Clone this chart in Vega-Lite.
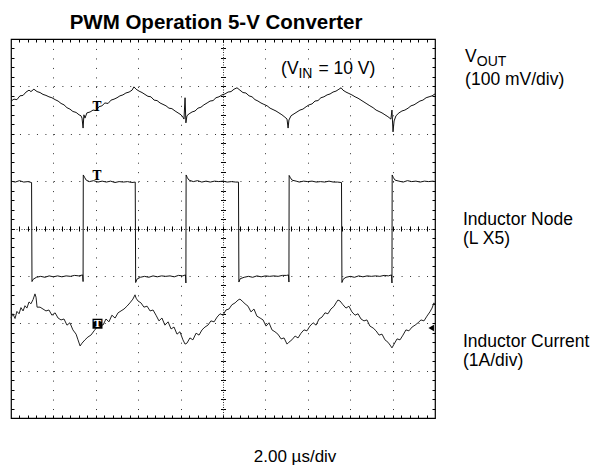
{
  "$schema": "https://vega.github.io/schema/vega-lite/v6.json",
  "autosize": {"type": "none"},
  "padding": {"left": 11, "top": 39, "right": 168, "bottom": 51},
  "width": 424,
  "height": 379,
  "background": "white",
  "title": {"text": "PWM Operation 5-V Converter", "font": "Liberation Sans", "fontSize": 20.5, "fontWeight": "bold", "color": "#000", "anchor": "middle", "frame": "group", "baseline": "alphabetic", "offset": -11, "dx": -7},
  "config": {
    "font": "Liberation Sans",
    "view": {"stroke": "#000", "strokeWidth": 1.2},
    "axis": {"labels": false, "domain": false, "ticks": false, "grid": false, "title": null, "minExtent": 0, "tickColor": "#000", "tickWidth": 1, "gridColor": "#000", "gridOpacity": 0.8, "gridWidth": 1}
  },
  "datasets": {
    "vout": [
      {"t":0,"v":6.69},{"t":0.14,"v":6.73},{"t":0.28,"v":6.72},{"t":0.42,"v":6.8},{"t":0.57,"v":6.81},{"t":0.71,"v":6.88},{"t":0.85,"v":6.92},{"t":0.94,"v":6.89},{"t":1.08,"v":6.94},{"t":1.23,"v":6.89},{"t":1.37,"v":6.87},{"t":1.51,"v":6.83},{"t":1.65,"v":6.81},{"t":1.79,"v":6.78},{"t":1.93,"v":6.76},{"t":2.08,"v":6.72},{"t":2.22,"v":6.69},{"t":2.36,"v":6.64},{"t":2.5,"v":6.61},{"t":2.64,"v":6.55},{"t":2.78,"v":6.52},{"t":2.92,"v":6.47},{"t":3.07,"v":6.45},{"t":3.21,"v":6.4},{"t":3.3,"v":6.38},{"t":3.35,"v":6.33},{"t":3.4,"v":6.12},{"t":3.44,"v":6.4},{"t":3.49,"v":6.33},{"t":3.58,"v":6.44},{"t":3.73,"v":6.46},{"t":3.87,"v":6.5},{"t":4.01,"v":6.49},{"t":4.15,"v":6.57},{"t":4.29,"v":6.59},{"t":4.43,"v":6.65},{"t":4.58,"v":6.64},{"t":4.72,"v":6.71},{"t":4.86,"v":6.73},{"t":5,"v":6.76},{"t":5.14,"v":6.8},{"t":5.28,"v":6.82},{"t":5.42,"v":6.86},{"t":5.57,"v":6.88},{"t":5.71,"v":6.92},{"t":5.8,"v":6.99},{"t":5.9,"v":6.94},{"t":6.04,"v":6.9},{"t":6.18,"v":6.87},{"t":6.32,"v":6.83},{"t":6.46,"v":6.79},{"t":6.6,"v":6.78},{"t":6.75,"v":6.71},{"t":6.89,"v":6.7},{"t":7.03,"v":6.65},{"t":7.17,"v":6.62},{"t":7.31,"v":6.59},{"t":7.45,"v":6.54},{"t":7.59,"v":6.53},{"t":7.74,"v":6.48},{"t":7.88,"v":6.44},{"t":8.02,"v":6.4},{"t":8.11,"v":6.35},{"t":8.16,"v":6.31},{"t":8.21,"v":6.76},{"t":8.25,"v":6.23},{"t":8.3,"v":6.38},{"t":8.4,"v":6.42},{"t":8.54,"v":6.46},{"t":8.68,"v":6.48},{"t":8.82,"v":6.54},{"t":8.96,"v":6.56},{"t":9.1,"v":6.61},{"t":9.25,"v":6.65},{"t":9.39,"v":6.69},{"t":9.53,"v":6.7},{"t":9.67,"v":6.76},{"t":9.81,"v":6.78},{"t":9.95,"v":6.82},{"t":10.09,"v":6.84},{"t":10.24,"v":6.88},{"t":10.38,"v":6.89},{"t":10.52,"v":6.94},{"t":10.66,"v":6.97},{"t":10.8,"v":6.92},{"t":10.94,"v":6.87},{"t":11.08,"v":6.86},{"t":11.23,"v":6.8},{"t":11.37,"v":6.78},{"t":11.51,"v":6.72},{"t":11.65,"v":6.69},{"t":11.79,"v":6.65},{"t":11.93,"v":6.62},{"t":12.08,"v":6.59},{"t":12.22,"v":6.54},{"t":12.36,"v":6.51},{"t":12.5,"v":6.48},{"t":12.64,"v":6.44},{"t":12.78,"v":6.4},{"t":12.92,"v":6.35},{"t":13.02,"v":6.31},{"t":13.07,"v":6.12},{"t":13.11,"v":6.29},{"t":13.21,"v":6.38},{"t":13.35,"v":6.42},{"t":13.49,"v":6.46},{"t":13.63,"v":6.5},{"t":13.77,"v":6.52},{"t":13.92,"v":6.57},{"t":14.06,"v":6.61},{"t":14.2,"v":6.63},{"t":14.34,"v":6.69},{"t":14.48,"v":6.7},{"t":14.62,"v":6.76},{"t":14.76,"v":6.78},{"t":14.91,"v":6.82},{"t":15.05,"v":6.84},{"t":15.19,"v":6.88},{"t":15.33,"v":6.9},{"t":15.47,"v":6.94},{"t":15.57,"v":6.97},{"t":15.66,"v":6.92},{"t":15.8,"v":6.88},{"t":15.94,"v":6.85},{"t":16.08,"v":6.82},{"t":16.23,"v":6.78},{"t":16.37,"v":6.75},{"t":16.51,"v":6.71},{"t":16.65,"v":6.67},{"t":16.79,"v":6.63},{"t":16.93,"v":6.59},{"t":17.08,"v":6.55},{"t":17.22,"v":6.5},{"t":17.36,"v":6.47},{"t":17.5,"v":6.44},{"t":17.64,"v":6.4},{"t":17.78,"v":6.36},{"t":17.92,"v":6.31},{"t":17.97,"v":6.5},{"t":18.02,"v":6.04},{"t":18.07,"v":6.27},{"t":18.16,"v":6.38},{"t":18.3,"v":6.44},{"t":18.44,"v":6.48},{"t":18.58,"v":6.5},{"t":18.73,"v":6.54},{"t":18.87,"v":6.59},{"t":19.01,"v":6.61},{"t":19.15,"v":6.65},{"t":19.29,"v":6.69},{"t":19.43,"v":6.71},{"t":19.58,"v":6.76},{"t":19.72,"v":6.78},{"t":19.86,"v":6.8},{"t":20,"v":6.84}
    ],
    "node": [
      {"t":0,"v":5.0},{"t":0.2,"v":4.98},{"t":0.4,"v":5.01},{"t":0.6,"v":4.98},{"t":0.8,"v":4.99},{"t":0.97,"v":4.97},{"t":0.99,"v":2.88},{"t":1.05,"v":2.93},{"t":1.2,"v":2.97},{"t":1.4,"v":2.99},{"t":1.6,"v":2.97},{"t":1.8,"v":3.0},{"t":2.0,"v":2.98},{"t":2.2,"v":3.0},{"t":2.4,"v":2.98},{"t":2.6,"v":3.0},{"t":2.8,"v":2.99},{"t":3.0,"v":3.01},{"t":3.2,"v":3.0},{"t":3.38,"v":3.02},{"t":3.4,"v":2.88},{"t":3.41,"v":5.13},{"t":3.47,"v":5.08},{"t":3.55,"v":5.02},{"t":3.7,"v":4.99},{"t":3.9,"v":5.01},{"t":4.1,"v":4.98},{"t":4.3,"v":5.0},{"t":4.5,"v":4.98},{"t":4.7,"v":5.0},{"t":4.9,"v":4.97},{"t":5.1,"v":4.99},{"t":5.3,"v":4.98},{"t":5.5,"v":4.99},{"t":5.7,"v":4.97},{"t":5.86,"v":4.98},{"t":5.88,"v":2.86},{"t":5.94,"v":2.93},{"t":6.1,"v":2.97},{"t":6.3,"v":2.99},{"t":6.5,"v":2.97},{"t":6.7,"v":3.0},{"t":6.9,"v":2.98},{"t":7.1,"v":3.0},{"t":7.3,"v":2.99},{"t":7.5,"v":3.0},{"t":7.7,"v":2.98},{"t":7.9,"v":3.01},{"t":8.1,"v":3.0},{"t":8.23,"v":3.02},{"t":8.25,"v":2.85},{"t":8.26,"v":5.13},{"t":8.32,"v":5.07},{"t":8.4,"v":5.02},{"t":8.6,"v":4.99},{"t":8.8,"v":5.01},{"t":9.0,"v":4.98},{"t":9.2,"v":5.0},{"t":9.4,"v":4.98},{"t":9.6,"v":5.0},{"t":9.8,"v":4.99},{"t":10.0,"v":5.0},{"t":10.2,"v":4.98},{"t":10.4,"v":4.99},{"t":10.6,"v":4.98},{"t":10.73,"v":4.98},{"t":10.75,"v":2.87},{"t":10.81,"v":2.94},{"t":11.0,"v":2.97},{"t":11.2,"v":2.99},{"t":11.4,"v":2.97},{"t":11.6,"v":3.0},{"t":11.8,"v":2.98},{"t":12.0,"v":3.0},{"t":12.2,"v":2.99},{"t":12.4,"v":3.0},{"t":12.6,"v":2.99},{"t":12.8,"v":3.01},{"t":13.0,"v":3.01},{"t":13.09,"v":3.02},{"t":13.11,"v":2.87},{"t":13.12,"v":5.12},{"t":13.18,"v":5.07},{"t":13.26,"v":5.02},{"t":13.45,"v":5.0},{"t":13.6,"v":4.98},{"t":13.8,"v":5.0},{"t":14.0,"v":4.99},{"t":14.2,"v":5.0},{"t":14.4,"v":4.98},{"t":14.6,"v":4.99},{"t":14.8,"v":4.98},{"t":15.0,"v":5.0},{"t":15.2,"v":4.98},{"t":15.4,"v":4.98},{"t":15.59,"v":4.97},{"t":15.61,"v":2.86},{"t":15.67,"v":2.93},{"t":15.8,"v":2.97},{"t":16.0,"v":2.99},{"t":16.2,"v":2.97},{"t":16.4,"v":3.0},{"t":16.6,"v":2.98},{"t":16.8,"v":3.0},{"t":17.0,"v":2.99},{"t":17.2,"v":3.0},{"t":17.4,"v":2.99},{"t":17.6,"v":3.01},{"t":17.8,"v":3.0},{"t":17.95,"v":3.02},{"t":17.97,"v":2.85},{"t":17.98,"v":5.13},{"t":18.04,"v":5.07},{"t":18.12,"v":5.02},{"t":18.3,"v":5.0},{"t":18.5,"v":4.98},{"t":18.7,"v":5.01},{"t":18.9,"v":4.99},{"t":19.1,"v":5.0},{"t":19.3,"v":4.98},{"t":19.5,"v":5.0},{"t":19.7,"v":4.99},{"t":19.9,"v":5.0},{"t":20.0,"v":4.99}
    ],
    "current": [
      {"t":0,"v":2.11},{"t":0.09,"v":2.2},{"t":0.19,"v":2.1},{"t":0.28,"v":2.25},{"t":0.38,"v":2.2},{"t":0.47,"v":2.33},{"t":0.57,"v":2.26},{"t":0.66,"v":2.37},{"t":0.75,"v":2.32},{"t":0.85,"v":2.45},{"t":0.94,"v":2.41},{"t":1.04,"v":2.5},{"t":1.13,"v":2.62},{"t":1.18,"v":2.55},{"t":1.23,"v":2.34},{"t":1.37,"v":2.34},{"t":1.51,"v":2.3},{"t":1.65,"v":2.26},{"t":1.79,"v":2.28},{"t":1.93,"v":2.17},{"t":2.08,"v":2.22},{"t":2.22,"v":2.11},{"t":2.36,"v":2.07},{"t":2.5,"v":2.09},{"t":2.64,"v":1.96},{"t":2.78,"v":2.01},{"t":2.92,"v":1.86},{"t":3.07,"v":1.77},{"t":3.16,"v":1.65},{"t":3.26,"v":1.52},{"t":3.35,"v":1.58},{"t":3.49,"v":1.65},{"t":3.63,"v":1.71},{"t":3.77,"v":1.75},{"t":3.92,"v":1.84},{"t":4.06,"v":1.92},{"t":4.2,"v":1.98},{"t":4.34,"v":1.96},{"t":4.48,"v":2.09},{"t":4.62,"v":2.03},{"t":4.76,"v":2.17},{"t":4.91,"v":2.11},{"t":5.05,"v":2.22},{"t":5.19,"v":2.26},{"t":5.33,"v":2.3},{"t":5.47,"v":2.36},{"t":5.61,"v":2.43},{"t":5.75,"v":2.51},{"t":5.85,"v":2.6},{"t":5.9,"v":2.53},{"t":5.99,"v":2.47},{"t":6.13,"v":2.43},{"t":6.27,"v":2.34},{"t":6.42,"v":2.36},{"t":6.56,"v":2.26},{"t":6.7,"v":2.28},{"t":6.84,"v":2.17},{"t":6.98,"v":2.05},{"t":7.12,"v":2.11},{"t":7.26,"v":1.96},{"t":7.41,"v":2.03},{"t":7.55,"v":1.88},{"t":7.69,"v":1.92},{"t":7.83,"v":1.77},{"t":7.97,"v":1.82},{"t":8.11,"v":1.65},{"t":8.21,"v":1.56},{"t":8.3,"v":1.58},{"t":8.44,"v":1.69},{"t":8.58,"v":1.65},{"t":8.73,"v":1.79},{"t":8.87,"v":1.75},{"t":9.01,"v":1.86},{"t":9.15,"v":1.92},{"t":9.29,"v":1.96},{"t":9.43,"v":2.05},{"t":9.58,"v":2.03},{"t":9.72,"v":2.13},{"t":9.86,"v":2.2},{"t":10.0,"v":2.17},{"t":10.14,"v":2.28},{"t":10.28,"v":2.3},{"t":10.42,"v":2.39},{"t":10.57,"v":2.43},{"t":10.71,"v":2.49},{"t":10.8,"v":2.51},{"t":10.9,"v":2.47},{"t":11.04,"v":2.41},{"t":11.18,"v":2.36},{"t":11.32,"v":2.24},{"t":11.46,"v":2.3},{"t":11.6,"v":2.15},{"t":11.75,"v":2.11},{"t":11.89,"v":2.07},{"t":12.03,"v":1.94},{"t":12.17,"v":2.01},{"t":12.31,"v":1.86},{"t":12.45,"v":1.82},{"t":12.59,"v":1.77},{"t":12.74,"v":1.67},{"t":12.88,"v":1.69},{"t":13.02,"v":1.56},{"t":13.11,"v":1.6},{"t":13.25,"v":1.65},{"t":13.4,"v":1.73},{"t":13.54,"v":1.69},{"t":13.68,"v":1.79},{"t":13.82,"v":1.86},{"t":13.96,"v":1.84},{"t":14.1,"v":1.94},{"t":14.25,"v":2.01},{"t":14.39,"v":1.96},{"t":14.53,"v":2.09},{"t":14.67,"v":2.13},{"t":14.81,"v":2.22},{"t":14.95,"v":2.2},{"t":15.09,"v":2.3},{"t":15.24,"v":2.36},{"t":15.33,"v":2.43},{"t":15.42,"v":2.49},{"t":15.52,"v":2.47},{"t":15.66,"v":2.39},{"t":15.8,"v":2.32},{"t":15.94,"v":2.36},{"t":16.08,"v":2.24},{"t":16.23,"v":2.17},{"t":16.37,"v":2.2},{"t":16.51,"v":2.09},{"t":16.65,"v":2.05},{"t":16.79,"v":2.07},{"t":16.93,"v":1.94},{"t":17.08,"v":1.9},{"t":17.22,"v":1.84},{"t":17.36,"v":1.75},{"t":17.5,"v":1.77},{"t":17.64,"v":1.65},{"t":17.78,"v":1.6},{"t":17.88,"v":1.54},{"t":17.97,"v":1.48},{"t":18.07,"v":1.56},{"t":18.21,"v":1.67},{"t":18.35,"v":1.65},{"t":18.49,"v":1.75},{"t":18.63,"v":1.86},{"t":18.77,"v":1.84},{"t":18.92,"v":1.92},{"t":19.06,"v":1.96},{"t":19.2,"v":2.01},{"t":19.34,"v":2.07},{"t":19.48,"v":2.05},{"t":19.62,"v":2.15},{"t":19.76,"v":2.24},{"t":19.86,"v":2.32},{"t":19.95,"v":2.43},{"t":20.0,"v":2.39}
    ],
    "labels": [
      {"t":21.42,"v":7.52,"text":"V"},
      {"t":21.42,"v":7.03,"text":"(100 mV/div)"},
      {"t":21.32,"v":4.07,"text":"Inductor Node"},
      {"t":21.32,"v":3.67,"text":"(L X5)"},
      {"t":21.32,"v":1.5,"text":"Inductor Current"},
      {"t":21.32,"v":1.1,"text":"(1A/div)"},
      {"t":12.74,"v":7.26,"text":"(V"},
      {"t":14.5,"v":7.26,"text":"= 10 V)"}
    ],
    "subs": [
      {"t":21.97,"v":7.42,"text":"OUT"},
      {"t":13.56,"v":7.18,"text":"IN"}
    ],
    "caption": [
      {"t":13.4,"v":-0.93,"text":"2.00 µs/div"}
    ],
    "trig": [
      {"t":4.06,"v":6.56},
      {"t":4.06,"v":5.11}
    ],
    "trigI": [
      {"t":4.08,"v":1.99}
    ],
    "gnd": [
      {"t":19.82,"v":1.9}
    ]
  },
  "resolve": {"axis": {"x": "independent", "y": "independent"}},
  "layer": [
    {
      "data": {"name": "vout"},
      "mark": {"type": "line", "color": "#111", "strokeWidth": 1},
      "encoding": {
        "x": {"field": "t", "type": "quantitative", "scale": {"domain": [0, 20], "nice": false, "zero": false},
              "axis": {"orient": "bottom", "grid": true, "values": [2,4,6,8,12,14,16,18], "gridDash": [1, 8.475]}},
        "y": {"field": "v", "type": "quantitative", "scale": {"domain": [0, 8], "nice": false, "zero": false},
              "axis": {"orient": "left", "grid": true, "values": [1,2,3,5,6,7], "gridDash": [1, 7.48]}}
      }
    },
    {
      "data": {"name": "node"},
      "mark": {"type": "line", "color": "#111", "strokeWidth": 1},
      "encoding": {
        "x": {"field": "t", "type": "quantitative", "scale": {"domain": [0, 20], "nice": false, "zero": false},
              "axis": {"orient": "bottom", "grid": true, "values": [10], "gridDash": [1, 1.5]}},
        "y": {"field": "v", "type": "quantitative", "scale": {"domain": [0, 8], "nice": false, "zero": false},
              "axis": {"orient": "left", "grid": true, "values": [4], "gridDash": [1, 1.5]}}
      }
    },
    {
      "data": {"name": "current"},
      "mark": {"type": "line", "color": "#222", "strokeWidth": 1},
      "encoding": {
        "x": {"field": "t", "type": "quantitative", "scale": {"domain": [0, 20], "nice": false, "zero": false},
              "axis": {"orient": "bottom", "offset": -3, "ticks": true, "tickSize": 3, "values": [0.4,0.8,1.2,1.6,2,2.4,2.8,3.2,3.6,4,4.4,4.8,5.2,5.6,6,6.4,6.8,7.2,7.6,8,8.4,8.8,9.2,9.6,10,10.4,10.8,11.2,11.6,12,12.4,12.8,13.2,13.6,14,14.4,14.8,15.2,15.6,16,16.4,16.8,17.2,17.6,18,18.4,18.8,19.2,19.6]}},
        "y": {"field": "v", "type": "quantitative", "scale": {"domain": [0, 8], "nice": false, "zero": false},
              "axis": {"orient": "left", "offset": -3, "ticks": true, "tickSize": 3, "values": [0.2,0.4,0.6,0.8,1,1.2,1.4,1.6,1.8,2,2.2,2.4,2.6,2.8,3,3.2,3.4,3.6,3.8,4,4.2,4.4,4.6,4.8,5,5.2,5.4,5.6,5.8,6,6.2,6.4,6.6,6.8,7,7.2,7.4,7.6,7.8]}}
      }
    },
    {
      "data": {"name": "labels"},
      "mark": {"type": "text", "align": "left", "baseline": "alphabetic", "fontSize": 17.5, "font": "Liberation Sans", "color": "#000"},
      "encoding": {
        "x": {"field": "t", "type": "quantitative", "scale": {"domain": [0, 20], "nice": false, "zero": false},
              "axis": {"orient": "top", "offset": -3, "ticks": true, "tickSize": 3, "values": [0.4,0.8,1.2,1.6,2,2.4,2.8,3.2,3.6,4,4.4,4.8,5.2,5.6,6,6.4,6.8,7.2,7.6,8,8.4,8.8,9.2,9.6,10,10.4,10.8,11.2,11.6,12,12.4,12.8,13.2,13.6,14,14.4,14.8,15.2,15.6,16,16.4,16.8,17.2,17.6,18,18.4,18.8,19.2,19.6]}},
        "y": {"field": "v", "type": "quantitative", "scale": {"domain": [0, 8], "nice": false, "zero": false},
              "axis": {"orient": "right", "offset": -3, "ticks": true, "tickSize": 3, "values": [0.2,0.4,0.6,0.8,1,1.2,1.4,1.6,1.8,2,2.2,2.4,2.6,2.8,3,3.2,3.4,3.6,3.8,4,4.2,4.4,4.6,4.8,5,5.2,5.4,5.6,5.8,6,6.2,6.4,6.6,6.8,7,7.2,7.4,7.6,7.8]}},
        "text": {"field": "text"}
      }
    },
    {
      "data": {"name": "subs"},
      "mark": {"type": "text", "align": "left", "baseline": "alphabetic", "fontSize": 14, "font": "Liberation Sans", "color": "#000"},
      "encoding": {
        "x": {"field": "t", "type": "quantitative", "scale": {"domain": [0, 20], "nice": false, "zero": false},
              "axis": {"orient": "bottom", "offset": -189.5, "ticks": true, "tickSize": 2.5, "values": [0.4,0.8,1.2,1.6,2,2.4,2.8,3.2,3.6,4,4.4,4.8,5.2,5.6,6,6.4,6.8,7.2,7.6,8,8.4,8.8,9.2,9.6,10,10.4,10.8,11.2,11.6,12,12.4,12.8,13.2,13.6,14,14.4,14.8,15.2,15.6,16,16.4,16.8,17.2,17.6,18,18.4,18.8,19.2,19.6]}},
        "y": {"field": "v", "type": "quantitative", "scale": {"domain": [0, 8], "nice": false, "zero": false},
              "axis": {"orient": "left", "offset": -212, "ticks": true, "tickSize": 2.5, "values": [0.2,0.4,0.6,0.8,1,1.2,1.4,1.6,1.8,2,2.2,2.4,2.6,2.8,3,3.2,3.4,3.6,3.8,4,4.2,4.4,4.6,4.8,5,5.2,5.4,5.6,5.8,6,6.2,6.4,6.6,6.8,7,7.2,7.4,7.6,7.8]}},
        "text": {"field": "text"}
      }
    },
    {
      "data": {"name": "caption"},
      "mark": {"type": "text", "align": "center", "baseline": "alphabetic", "fontSize": 17, "font": "Liberation Sans", "color": "#000"},
      "encoding": {
        "x": {"field": "t", "type": "quantitative", "scale": {"domain": [0, 20], "nice": false, "zero": false},
              "axis": {"orient": "top", "offset": -189.5, "ticks": true, "tickSize": 2.5, "values": [0.4,0.8,1.2,1.6,2,2.4,2.8,3.2,3.6,4,4.4,4.8,5.2,5.6,6,6.4,6.8,7.2,7.6,8,8.4,8.8,9.2,9.6,10,10.4,10.8,11.2,11.6,12,12.4,12.8,13.2,13.6,14,14.4,14.8,15.2,15.6,16,16.4,16.8,17.2,17.6,18,18.4,18.8,19.2,19.6]}},
        "y": {"field": "v", "type": "quantitative", "scale": {"domain": [0, 8], "nice": false, "zero": false},
              "axis": {"orient": "right", "offset": -212, "ticks": true, "tickSize": 2.5, "values": [0.2,0.4,0.6,0.8,1,1.2,1.4,1.6,1.8,2,2.2,2.4,2.6,2.8,3,3.2,3.4,3.6,3.8,4,4.2,4.4,4.6,4.8,5,5.2,5.4,5.6,5.8,6,6.2,6.4,6.6,6.8,7,7.2,7.4,7.6,7.8]}},
        "text": {"field": "text"}
      }
    },
    {
      "data": {"name": "trig"},
      "mark": {"type": "text", "text": "T", "align": "center", "baseline": "middle", "fontSize": 12, "fontWeight": "bold", "font": "DejaVu Serif", "color": "#000"},
      "encoding": {
        "x": {"field": "t", "type": "quantitative", "scale": {"domain": [0, 20], "nice": false, "zero": false}, "axis": null},
        "y": {"field": "v", "type": "quantitative", "scale": {"domain": [0, 8], "nice": false, "zero": false}, "axis": null}
      }
    },
    {
      "data": {"name": "trigI"},
      "mark": {"type": "square", "size": 100, "filled": true, "color": "#000", "opacity": 1},
      "encoding": {
        "x": {"field": "t", "type": "quantitative", "scale": {"domain": [0, 20], "nice": false, "zero": false}, "axis": null},
        "y": {"field": "v", "type": "quantitative", "scale": {"domain": [0, 8], "nice": false, "zero": false}, "axis": null}
      }
    },
    {
      "data": {"name": "trigI"},
      "mark": {"type": "text", "text": "T", "align": "center", "baseline": "middle", "fontSize": 10, "fontWeight": "bold", "font": "DejaVu Serif", "color": "#fff"},
      "encoding": {
        "x": {"field": "t", "type": "quantitative", "scale": {"domain": [0, 20], "nice": false, "zero": false}, "axis": null},
        "y": {"field": "v", "type": "quantitative", "scale": {"domain": [0, 8], "nice": false, "zero": false}, "axis": null}
      }
    },
    {
      "data": {"name": "gnd"},
      "mark": {"type": "point", "shape": "triangle-left", "size": 40, "filled": true, "color": "#000", "opacity": 1},
      "encoding": {
        "x": {"field": "t", "type": "quantitative", "scale": {"domain": [0, 20], "nice": false, "zero": false}, "axis": null},
        "y": {"field": "v", "type": "quantitative", "scale": {"domain": [0, 8], "nice": false, "zero": false}, "axis": null}
      }
    }
  ]
}
